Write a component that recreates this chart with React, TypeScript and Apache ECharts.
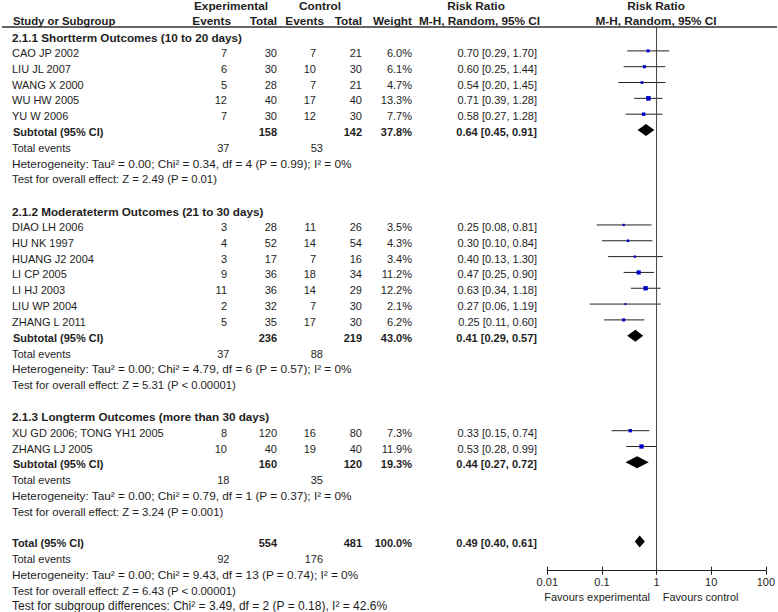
import React, { useEffect, useRef } from "react";
import * as echarts from "echarts";

const FONT = '"Liberation Sans", Arial, Helvetica, sans-serif';
const TXT = "#1e1e1e";

// ---- data ----
const studyNames = [
  "CAO JP 2002", "LIU JL 2007", "WANG X 2000", "WU HW 2005", "YU W 2006",
  "DIAO LH 2006", "HU NK 1997", "HUANG J2 2004", "LI CP 2005", "LI HJ 2003", "LIU WP 2004", "ZHANG L 2011",
  "XU GD 2006; TONG YH1 2005", "ZHANG LJ 2005",
];
const studyGroup = [0, 0, 0, 0, 0, 1, 1, 1, 1, 1, 1, 1, 2, 2];
const expEvents = [7, 6, 5, 12, 7, 3, 4, 3, 9, 11, 2, 5, 8, 10];
const expTotal = [30, 30, 28, 40, 30, 28, 52, 17, 36, 36, 32, 35, 120, 40];
const ctlEvents = [7, 10, 7, 17, 12, 11, 14, 7, 18, 14, 7, 17, 16, 19];
const ctlTotal = [21, 30, 21, 40, 30, 26, 54, 16, 34, 29, 30, 30, 80, 40];
const weights = [6.0, 6.1, 4.7, 13.3, 7.7, 3.5, 4.3, 3.4, 11.2, 12.2, 2.1, 6.2, 7.3, 11.9];
const rr = [0.70, 0.60, 0.54, 0.71, 0.58, 0.25, 0.30, 0.40, 0.47, 0.63, 0.27, 0.25, 0.33, 0.53];
const rrLow = [0.29, 0.25, 0.20, 0.39, 0.27, 0.08, 0.10, 0.13, 0.25, 0.34, 0.06, 0.11, 0.15, 0.28];
const rrHigh = [1.70, 1.44, 1.45, 1.28, 1.28, 0.81, 0.84, 1.30, 0.90, 1.18, 1.19, 0.60, 0.74, 0.99];

const groupTitles = [
  "2.1.1 Shortterm Outcomes (10 to 20 days)",
  "2.1.2 Moderateterm Outcomes (21 to 30 days)",
  "2.1.3 Longterm Outcomes (more than 30 days)",
];
const groupExpTotal = [158, 236, 160];
const groupCtlTotal = [142, 219, 120];
const groupExpEvents = [37, 37, 18];
const groupCtlEvents = [53, 88, 35];
const groupWeight = [37.8, 43.0, 19.3];
const groupRR = [0.64, 0.41, 0.44];
const groupLow = [0.45, 0.29, 0.27];
const groupHigh = [0.91, 0.57, 0.72];
const groupHet = [
  "Heterogeneity: Tau² = 0.00; Chi² = 0.34, df = 4 (P = 0.99); I² = 0%",
  "Heterogeneity: Tau² = 0.00; Chi² = 4.79, df = 6 (P = 0.57); I² = 0%",
  "Heterogeneity: Tau² = 0.00; Chi² = 0.79, df = 1 (P = 0.37); I² = 0%",
];
const groupTest = [
  "Test for overall effect: Z = 2.49 (P = 0.01)",
  "Test for overall effect: Z = 5.31 (P < 0.00001)",
  "Test for overall effect: Z = 3.24 (P = 0.001)",
];

const overallExpTotal = 554;
const overallCtlTotal = 481;
const overallExpEvents = 92;
const overallCtlEvents = 176;
const overallWeight = 100.0;
const overallRR = 0.49;
const overallLow = 0.40;
const overallHigh = 0.61;
const overallHet = "Heterogeneity: Tau² = 0.00; Chi² = 9.43, df = 13 (P = 0.74); I² = 0%";
const overallTest = "Test for overall effect: Z = 6.43 (P < 0.00001)";
const subgroupTest = "Test for subgroup differences: Chi² = 3.49, df = 2 (P = 0.18), I² = 42.6%";

const axisTickLabels = ["0.01", "0.1", "1", "10", "100"];
const favoursLeft = "Favours experimental";
const favoursRight = "Favours control";

// ---- layout (pixels) ----
const ROW_H = 15.825;
const ROW0 = 3.4; // mark centre of row 0
const GRID_LEFT = 547.3;
const GRID_RIGHT_PX = 766;
const AXIS_Y = 570.7;
const yMin = -ROW0 / ROW_H;
const yMax = (AXIS_Y - ROW0) / ROW_H;
const nullTopRow = (27 - ROW0) / ROW_H;

const X_NAME = 12;
const X_EXP_EV = 227;
const X_EXP_TOT = 277;
const X_CTL_EV = 316;
const X_CTL_TOT = 362;
const X_WEIGHT = 412;
const X_RR = 537;

type Cell = { t: string; x: number; align?: string; bold?: boolean; size?: number; dy?: number };
type Row = { row: number; cells: Cell[] };

const fmtCI = (a: number, l: number, h: number) => `${a.toFixed(2)} [${l.toFixed(2)}, ${h.toFixed(2)}]`;

function buildTable() {
  const rows: Row[] = [];
  const studyMarks: number[][] = [];
  const diamonds: number[][] = [];
  rows.push({
    row: 0,
    cells: [
      { t: "Experimental", x: 231, align: "center", bold: true, size: 11.8, dy: 1 },
      { t: "Control", x: 320, align: "center", bold: true, size: 11.8, dy: 1 },
      { t: "Risk Ratio", x: 476, align: "center", bold: true, size: 11.8, dy: 1 },
      { t: "Risk Ratio", x: 656, align: "center", bold: true, size: 11.8, dy: 1 },
    ],
  });
  rows.push({
    row: 1,
    cells: [
      { t: "Study or Subgroup", x: 13, bold: true, size: 11.3 },
      { t: "Events", x: 231, align: "right", bold: true, size: 11.8 },
      { t: "Total", x: 277, align: "right", bold: true, size: 11.8 },
      { t: "Events", x: 324, align: "right", bold: true, size: 11.8 },
      { t: "Total", x: 362, align: "right", bold: true, size: 11.8 },
      { t: "Weight", x: 412, align: "right", bold: true, size: 11.8 },
      { t: "M-H, Random, 95% CI", x: 479.5, align: "center", bold: true, size: 11.8 },
      { t: "M-H, Random, 95% CI", x: 656, align: "center", bold: true, size: 11.8 },
    ],
  });
  let r = 2;
  for (let g = 0; g < groupTitles.length; g++) {
    rows.push({ row: r++, cells: [{ t: groupTitles[g], x: X_NAME, bold: true, size: 11.7 }] });
    for (let i = 0; i < studyNames.length; i++) {
      if (studyGroup[i] !== g) continue;
      rows.push({
        row: r,
        cells: [
          { t: studyNames[i], x: X_NAME },
          { t: String(expEvents[i]), x: X_EXP_EV, align: "right" },
          { t: String(expTotal[i]), x: X_EXP_TOT, align: "right" },
          { t: String(ctlEvents[i]), x: X_CTL_EV, align: "right" },
          { t: String(ctlTotal[i]), x: X_CTL_TOT, align: "right" },
          { t: weights[i].toFixed(1) + "%", x: X_WEIGHT, align: "right" },
          { t: fmtCI(rr[i], rrLow[i], rrHigh[i]), x: X_RR, align: "right" },
        ],
      });
      studyMarks.push([rr[i], r, rrLow[i], rrHigh[i], weights[i]]);
      r++;
    }
    rows.push({
      row: r,
      cells: [
        { t: "Subtotal (95% CI)", x: 13, bold: true },
        { t: String(groupExpTotal[g]), x: X_EXP_TOT, align: "right", bold: true },
        { t: String(groupCtlTotal[g]), x: X_CTL_TOT, align: "right", bold: true },
        { t: groupWeight[g].toFixed(1) + "%", x: X_WEIGHT, align: "right", bold: true },
        { t: fmtCI(groupRR[g], groupLow[g], groupHigh[g]), x: X_RR, align: "right", bold: true },
      ],
    });
    diamonds.push([groupRR[g], r, groupLow[g], groupHigh[g]]);
    r++;
    rows.push({
      row: r++,
      cells: [
        { t: "Total events", x: X_NAME },
        { t: String(groupExpEvents[g]), x: 229.5, align: "right" },
        { t: String(groupCtlEvents[g]), x: 323, align: "right" },
      ],
    });
    rows.push({ row: r++, cells: [{ t: groupHet[g], x: X_NAME, size: 11.8 }] });
    rows.push({ row: r++, cells: [{ t: groupTest[g], x: X_NAME, size: 11.3 }] });
    r++;
  }
  rows.push({
    row: r,
    cells: [
      { t: "Total (95% CI)", x: X_NAME, bold: true },
      { t: String(overallExpTotal), x: X_EXP_TOT, align: "right", bold: true },
      { t: String(overallCtlTotal), x: X_CTL_TOT, align: "right", bold: true },
      { t: overallWeight.toFixed(1) + "%", x: X_WEIGHT, align: "right", bold: true },
      { t: fmtCI(overallRR, overallLow, overallHigh), x: X_RR, align: "right", bold: true },
    ],
  });
  diamonds.push([overallRR, r, overallLow, overallHigh]);
  r++;
  rows.push({
    row: r++,
    cells: [
      { t: "Total events", x: X_NAME },
      { t: String(overallExpEvents), x: 229.5, align: "right" },
      { t: String(overallCtlEvents), x: 323, align: "right" },
    ],
  });
  rows.push({ row: r++, cells: [{ t: overallHet, x: X_NAME, size: 11.8 }] });
  rows.push({ row: r++, cells: [{ t: overallTest, x: X_NAME, size: 11.3 }] });
  rows.push({ row: r++, cells: [{ t: subgroupTest, x: X_NAME, size: 12, dy: -0.5 }] });
  return { rows, studyMarks, diamonds };
}

export default function App() {
  const ref = useRef<HTMLDivElement>(null);
  useEffect(() => {
    if (!ref.current) return;
    const chart = echarts.init(ref.current, undefined, { renderer: "svg" });
    const { rows, studyMarks, diamonds } = buildTable();

    const option: any = {
      animation: false,
      backgroundColor: "#ffffff",
      textStyle: { fontFamily: FONT },
      grid: { left: GRID_LEFT, top: 0, width: GRID_RIGHT_PX - GRID_LEFT, height: AXIS_Y, containLabel: false },
      xAxis: [
        {
          type: "log",
          logBase: 10,
          min: 0.01,
          max: 100,
          splitNumber: 4,
          position: "bottom",
          axisLine: { show: true, onZero: false, lineStyle: { color: "#222", width: 1 } },
          axisTick: { show: true, length: 4, lineStyle: { color: "#222", width: 1 } },
          splitLine: { show: false },
          axisLabel: {
            show: true,
            margin: 6,
            fontSize: 11,
            color: TXT,
            fontFamily: FONT,
            formatter: (v: number) => {
              const e = Math.round(Math.log10(v));
              return axisTickLabels[e + 2] ?? "";
            },
          },
        },
        {
          type: "log",
          logBase: 10,
          min: 0.01,
          max: 100,
          splitNumber: 4,
          position: "bottom",
          axisLine: { show: false, onZero: false },
          axisTick: { show: true, inside: true, length: 4, lineStyle: { color: "#222", width: 1 } },
          axisLabel: { show: false },
          splitLine: { show: false },
        },
      ],
      yAxis: {
        type: "value",
        inverse: true,
        min: yMin,
        max: yMax,
        show: false,
      },
      graphic: [
        {
          type: "line",
          shape: { x1: 2, y1: 27, x2: 777, y2: 27 },
          style: { stroke: "#333", lineWidth: 1.5 },
        },
        {
          type: "text",
          x: 650,
          y: 596.7,
          style: { text: favoursLeft, fill: TXT, font: `11px ${FONT}`, textAlign: "right", textVerticalAlign: "middle" },
        },
        {
          type: "text",
          x: 662.7,
          y: 596.7,
          style: { text: favoursRight, fill: TXT, font: `11px ${FONT}`, textAlign: "left", textVerticalAlign: "middle" },
        },
      ],
      series: [
        {
          type: "line",
          xAxisIndex: 0,
          data: [
            [1, nullTopRow],
            [1, yMax],
          ],
          symbol: "none",
          lineStyle: { color: "#444", width: 1 },
          silent: true,
        },
        {
          type: "custom",
          xAxisIndex: 0,
          clip: false,
          data: studyMarks,
          encode: { x: 0, y: 1 },
          renderItem: (params: any, api: any) => {
            const row = api.value(1);
            const c = api.coord([api.value(0), row]);
            const lo = api.coord([api.value(2), row]);
            const hi = api.coord([api.value(3), row]);
            const s = Math.max(2, 1.25 * Math.sqrt(api.value(4)));
            return {
              type: "group",
              children: [
                {
                  type: "line",
                  shape: { x1: lo[0], y1: c[1], x2: hi[0], y2: c[1] },
                  style: { stroke: "#222", lineWidth: 1 },
                },
                {
                  type: "rect",
                  shape: { x: c[0] - s / 2, y: c[1] - s / 2, width: s, height: s },
                  style: { fill: "#0000c8" },
                },
              ],
            };
          },
        },
        {
          type: "custom",
          xAxisIndex: 0,
          clip: false,
          data: diamonds,
          encode: { x: 0, y: 1 },
          renderItem: (params: any, api: any) => {
            const row = api.value(1);
            const c = api.coord([api.value(0), row]);
            const lo = api.coord([api.value(2), row]);
            const hi = api.coord([api.value(3), row]);
            const h = 6;
            return {
              type: "polygon",
              shape: {
                points: [
                  [lo[0], c[1]],
                  [c[0], c[1] - h],
                  [hi[0], c[1]],
                  [c[0], c[1] + h],
                ],
              },
              style: { fill: "#000" },
            };
          },
        },
        {
          type: "custom",
          xAxisIndex: 0,
          clip: false,
          silent: true,
          data: rows.map((rw, i) => [1, rw.row, i]),
          encode: { x: 0, y: 1 },
          renderItem: (params: any, api: any) => {
            const idx = api.value(2);
            const y = api.coord([1, api.value(1)])[1] + 2;
            const rw = rows[idx];
            return {
              type: "group",
              children: rw.cells.map((cell) => {
                const st: any = {
                  text: cell.t,
                  fill: TXT,
                  font: `${cell.bold ? "bold " : ""}${cell.size || 11}px ${FONT}`,
                  textAlign: cell.align || "left",
                  textVerticalAlign: "middle",
                  align: cell.align || "left",
                  verticalAlign: "middle",
                };
                return { type: "text", x: cell.x, y: y + (cell.dy || 0), style: st };
              }),
            };
          },
        },
      ],
    };
    chart.setOption(option);
    return () => chart.dispose();
  }, []);
  return (
    <div
      ref={ref}
      style={{ position: "absolute", left: 0, top: 0, width: 778, height: 612, background: "#fff" }}
    />
  );
}
